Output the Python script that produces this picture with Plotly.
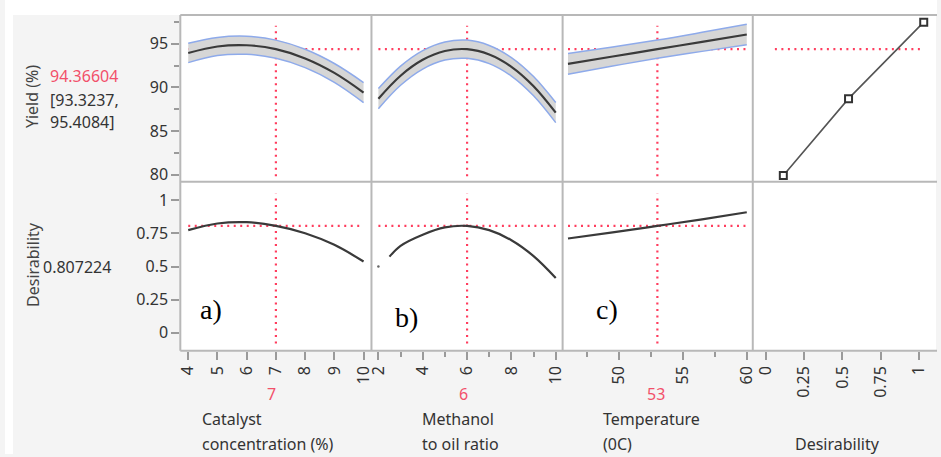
import plotly.graph_objects as go
from plotly.subplots import make_subplots

W, H = 941, 457

# ---------------- data ----------------
catalyst_x = [4, 5, 6, 7, 8, 9, 10]
catalyst_yield = [93.94, 94.68, 94.82, 94.37, 93.31, 91.65, 89.40]
catalyst_upper = [95.05, 95.72, 95.86, 95.41, 94.36, 92.73, 90.55]
catalyst_lower = [92.83, 93.64, 93.78, 93.32, 92.26, 90.57, 88.25]
catalyst_desir = [0.775, 0.825, 0.835, 0.807, 0.752, 0.664, 0.538]

methanol_x = [2, 3, 4, 5, 6, 7, 8, 9, 10]
methanol_yield = [88.70, 91.33, 93.15, 94.16, 94.37, 93.76, 92.35, 90.13, 87.10]
methanol_upper = [89.85, 92.43, 94.21, 95.20, 95.41, 94.80, 93.41, 91.23, 88.25]
methanol_lower = [87.55, 90.23, 92.09, 93.12, 93.32, 92.72, 91.29, 89.03, 85.95]
methanol_desir_x = [2.5, 3, 4, 5, 6, 7, 8, 9, 10]
methanol_desir = [0.575, 0.657, 0.741, 0.796, 0.807, 0.775, 0.699, 0.579, 0.414]
methanol_stray_x = [2]
methanol_stray_d = [0.5]

temp_x = [46, 49.5, 53, 56.5, 60]
temp_yield = [92.69, 93.53, 94.37, 95.21, 96.05]
temp_upper = [93.87, 94.62, 95.41, 96.30, 97.23]
temp_lower = [91.51, 92.44, 93.32, 94.12, 94.87]
temp_desir = [0.712, 0.758, 0.807, 0.857, 0.910]

desir_pts = [0.115, 0.54, 1.03]
desir_pts_yield = [79.9, 88.7, 97.47]

current_settings = [7, 6, 53]
current_labels = ["7", "6", "53"]
predicted_yield = 94.36604
ci_text = ["[93.3237,", "95.4084]"]
overall_desir = 0.807224

factor_names = [["Catalyst", "concentration (%)"],
                ["Methanol", "to oil ratio"],
                ["Temperature", "(0C)"],
                ["", "Desirability"]]
panel_tags = ["a)", "b)", "c)"]

yield_ticks = [80, 85, 90, 95]
desir_ticks = [0, 0.25, 0.5, 0.75, 1]
desir_ticktext = ["0", "0.25", "0.5", "0.75", "1"]
catalyst_ticks = [4, 5, 6, 7, 8, 9, 10]
methanol_ticks = [2, 4, 6, 8, 10]
temp_ticks = [50, 55, 60]

# ---------------- styling ----------------
FONT = "Noto Sans"
TXT = "#333333"
RED = "#ff3d5e"
RED_TXT = "#f2506a"
FRAME = "#b8b8b8"
TICKC = "#9a9a9a"
BAND = "#d6d6d6"
BAND_EDGE = "#8eaaea"
CURVE = "#3a3a3a"
DOT = "2px,4.5px"

fig = make_subplots(rows=2, cols=4, horizontal_spacing=0, vertical_spacing=0)

xd = [(177, 370), (370, 563), (563, 755), (755, 940)]
yd = [(15, 183), (183, 353)]
xranges = [[3.729, 10.27], [1.687, 10.31], [45.58, 60.47], [-0.084, 1.110]]
yranges = [[79.17, 98.30], [-0.135, 1.140]]

for r in range(2):
    for c in range(4):
        i = r * 4 + c + 1
        fig.layout[f"xaxis{i}"].update(
            domain=[xd[c][0] / W, xd[c][1] / W], range=xranges[c],
            showline=False, showgrid=False, zeroline=False, ticks="", showticklabels=False)
        fig.layout[f"yaxis{i}"].update(
            domain=[1 - yd[r][1] / H, 1 - yd[r][0] / H], range=yranges[r],
            showline=False, showgrid=False, zeroline=False, ticks="", showticklabels=False)

tickfont = dict(family=FONT, size=16, color=TXT)
fig.layout.yaxis1.update(ticks="outside", ticklen=8, tickcolor=TICKC, tickwidth=1.5,
                         tickvals=yield_ticks, showticklabels=True, tickfont=tickfont,
                         minor=dict(ticks="outside", ticklen=5, tickcolor=TICKC, dtick=2.5, tick0=0))
fig.layout.yaxis5.update(ticks="outside", ticklen=8, tickcolor=TICKC, tickwidth=1.5,
                         tickvals=desir_ticks, ticktext=desir_ticktext,
                         showticklabels=True, tickfont=tickfont)
xtick_common = dict(ticks="outside", ticklen=8, tickcolor=TICKC, tickwidth=1.5,
                    showticklabels=True, tickfont=tickfont, tickangle=-90)
fig.layout.xaxis5.update(tickvals=catalyst_ticks, **xtick_common)
fig.layout.xaxis6.update(tickvals=methanol_ticks, **xtick_common,
                         minor=dict(ticks="outside", ticklen=5, tickcolor=TICKC, dtick=1, tick0=0))
fig.layout.xaxis7.update(tickvals=temp_ticks, **xtick_common,
                         minor=dict(ticks="outside", ticklen=5, tickcolor=TICKC, dtick=2.5, tick0=0))
fig.layout.xaxis8.update(tickvals=desir_ticks, ticktext=desir_ticktext, **xtick_common)


def add_band(x, lo, hi, mid, col):
    fig.add_trace(go.Scatter(x=x, y=lo, mode="lines", line=dict(color=BAND_EDGE, width=1.5, shape="spline"),
                             hoverinfo="skip", showlegend=False), row=1, col=col)
    fig.add_trace(go.Scatter(x=x, y=hi, mode="lines", line=dict(color=BAND_EDGE, width=1.5, shape="spline"),
                             fill="tonexty", fillcolor=BAND, hoverinfo="skip", showlegend=False), row=1, col=col)
    fig.add_trace(go.Scatter(x=x, y=mid, mode="lines", line=dict(color=CURVE, width=2.2, shape="spline"),
                             showlegend=False), row=1, col=col)


def red_lines(xs, cur, col):
    fig.add_trace(go.Scatter(x=[min(xs), max(xs)], y=[predicted_yield] * 2, mode="lines",
                             line=dict(color=RED, width=2.2, dash=DOT), hoverinfo="skip",
                             showlegend=False), row=1, col=col)
    fig.add_trace(go.Scatter(x=[min(xs), max(xs)], y=[overall_desir] * 2, mode="lines",
                             line=dict(color=RED, width=2.2, dash=DOT), hoverinfo="skip",
                             showlegend=False), row=2, col=col)
    fig.add_trace(go.Scatter(x=[cur, cur], y=[79.8, 97.05], mode="lines",
                             line=dict(color=RED, width=2.2, dash=DOT), hoverinfo="skip",
                             showlegend=False), row=1, col=col)
    fig.add_trace(go.Scatter(x=[cur, cur], y=[-0.08, 1.05], mode="lines",
                             line=dict(color=RED, width=2.2, dash=DOT), hoverinfo="skip",
                             showlegend=False), row=2, col=col)


# panel a: catalyst
red_lines(catalyst_x, current_settings[0], 1)
add_band(catalyst_x, catalyst_lower, catalyst_upper, catalyst_yield, 1)
fig.add_trace(go.Scatter(x=catalyst_x, y=catalyst_desir, mode="lines",
                         line=dict(color=CURVE, width=2.2, shape="spline"), showlegend=False), row=2, col=1)

# panel b: methanol
red_lines(methanol_x, current_settings[1], 2)
add_band(methanol_x, methanol_lower, methanol_upper, methanol_yield, 2)
fig.add_trace(go.Scatter(x=methanol_desir_x, y=methanol_desir, mode="lines",
                         line=dict(color=CURVE, width=2.2, shape="spline"), showlegend=False), row=2, col=2)
fig.add_trace(go.Scatter(x=methanol_stray_x, y=methanol_stray_d, mode="markers",
                         marker=dict(color="#666666", size=2.5), showlegend=False), row=2, col=2)

# panel c: temperature
red_lines(temp_x, current_settings[2], 3)
add_band(temp_x, temp_lower, temp_upper, temp_yield, 3)
fig.add_trace(go.Scatter(x=temp_x, y=temp_desir, mode="lines",
                         line=dict(color=CURVE, width=2.2, shape="spline"), showlegend=False), row=2, col=3)

# panel d: desirability function
fig.add_trace(go.Scatter(x=[0.06, 1.03], y=[predicted_yield] * 2, mode="lines",
                         line=dict(color=RED, width=2.2, dash=DOT), hoverinfo="skip",
                         showlegend=False), row=1, col=4)
fig.add_trace(go.Scatter(x=desir_pts, y=desir_pts_yield, mode="lines+markers",
                         line=dict(color="#555555", width=1.6),
                         marker=dict(symbol="square", size=7, color="white",
                                     line=dict(color="#333333", width=2)),
                         showlegend=False), row=1, col=4)
# empty bottom-right cell (keeps its axis drawn)
fig.add_trace(go.Scatter(x=[0.5], y=[0.5], mode="markers", marker=dict(opacity=0),
                         hoverinfo="skip", showlegend=False), row=2, col=4)


def fx(px):
    return px / W


def fy(py):
    return 1 - py / H


ann = []


def text(px, py, s, color=TXT, size=16, xanchor="left", angle=0, family=FONT):
    ann.append(dict(x=fx(px), y=fy(py), xref="paper", yref="paper", text=s, showarrow=False,
                    xanchor=xanchor, yanchor="middle", textangle=angle, borderpad=0,
                    font=dict(family=family, size=size, color=color)))


text(28, 97, "Yield (%)", color="#444444", xanchor="center", angle=-90)
text(44, 76, f"{predicted_yield:.5f}", color=RED_TXT)
text(44, 101, ci_text[0])
text(44, 123, ci_text[1])
text(29, 266, "Desirability", color="#444444", xanchor="center", angle=-90)
text(37, 269, f"{overall_desir:.6f}")

cur_px = [269, 463, 657]
for p, lab in zip(cur_px, current_labels):
    text(p, 397, lab, color=RED_TXT, xanchor="center")

name_px = [198, 420, 603, 797]
for p, (l1, l2) in zip(name_px, factor_names):
    if l1:
        text(p, 422, l1)
    text(p, 447, l2)

tag_pos = [(196, 312), (393, 320), (596, 312)]
for (px, py), t in zip(tag_pos, panel_tags):
    text(px, py, t, color="#000000", size=28, family="Liberation Serif")

# frame lines of the profiler grid
shapes = [
    dict(type="rect", xref="paper", yref="paper", x0=0, x1=1, y0=fy(15), y1=1,
         fillcolor="white", line=dict(width=0), layer="above"),
    dict(type="rect", xref="paper", yref="paper", x0=0, x1=fx(8), y0=0, y1=1,
         fillcolor="white", line=dict(width=0), layer="above"),
]
for gx in [177, 370, 563, 755]:
    shapes.append(dict(type="line", xref="paper", yref="paper", x0=fx(gx), x1=fx(gx),
                       y0=fy(353), y1=fy(15), line=dict(color=FRAME, width=2), layer="above"))
for gy in [15, 183, 353]:
    shapes.append(dict(type="line", xref="paper", yref="paper", x0=fx(177), x1=fx(941),
                       y0=fy(gy), y1=fy(gy), line=dict(color=FRAME, width=2), layer="above"))

fig.update_layout(
    width=W, height=H, autosize=False,
    margin=dict(l=0, r=0, t=0, b=0, pad=0),
    paper_bgcolor="#f4f4f4", plot_bgcolor="white",
    showlegend=False, annotations=ann, shapes=shapes,
)

fig.write_html("out.html", config={"displayModeBar": False},
               post_script="document.body.style.margin='0';")
